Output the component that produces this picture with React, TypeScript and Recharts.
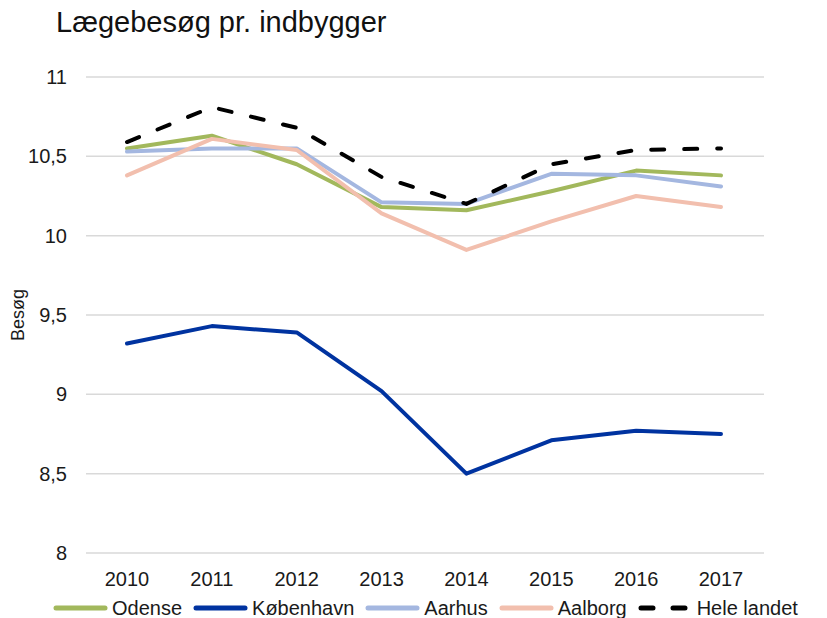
import { LineChart, Line, XAxis, YAxis, CartesianGrid, Legend, Label } from 'recharts';

const years = ['2010', '2011', '2012', '2013', '2014', '2015', '2016', '2017'];
const odense = [10.55, 10.63, 10.45, 10.18, 10.16, 10.28, 10.41, 10.38];
const koebenhavn = [9.32, 9.43, 9.39, 9.02, 8.5, 8.71, 8.77, 8.75];
const aarhus = [10.53, 10.55, 10.55, 10.21, 10.2, 10.39, 10.38, 10.31];
const aalborg = [10.38, 10.61, 10.54, 10.14, 9.91, 10.09, 10.25, 10.18];
const heleLandet = [10.59, 10.81, 10.68, 10.37, 10.2, 10.45, 10.54, 10.55];
const yTicks = [8, 8.5, 9, 9.5, 10, 10.5, 11];

const data = years.map((year, i) => ({
  year,
  Odense: odense[i],
  København: koebenhavn[i],
  Aarhus: aarhus[i],
  Aalborg: aalborg[i],
  'Hele landet': heleLandet[i],
}));

const series = [
  { key: 'Odense', color: '#a2b85c', dash: undefined },
  { key: 'København', color: '#0033a0', dash: undefined },
  { key: 'Aarhus', color: '#a4b7e0', dash: undefined },
  { key: 'Aalborg', color: '#f2bfae', dash: undefined },
  { key: 'Hele landet', color: '#000000', dash: '13 20' },
];

const font = '"Liberation Sans", Arial, sans-serif';

function LegendContent() {
  return (
    <div style={{ display: 'flex', alignItems: 'center', paddingLeft: 53, fontFamily: font, fontSize: 20, color: '#1a1a1a', height: 20 }}>
      {series.map((s) => (
        <div key={s.key} style={{ display: 'flex', alignItems: 'center', marginRight: 11 }}>
          <svg width={55} height={10} style={{ marginRight: 4 }}>
            <line
              x1={3}
              y1={5}
              x2={52}
              y2={5}
              stroke={s.color}
              strokeWidth={5}
              strokeLinecap="round"
              strokeDasharray={s.dash ? '12 20' : undefined}
            />
          </svg>
          <span style={{ lineHeight: '20px' }}>{s.key}</span>
        </div>
      ))}
    </div>
  );
}

export default function App() {
  return (
    <div style={{ position: 'absolute', left: 0, top: 0, width: 827, height: 618, background: '#fff' }}>
      <div style={{ position: 'absolute', left: 56, top: 6, fontFamily: font, fontSize: 29, color: '#111' }}>
        Lægebesøg pr. indbygger
      </div>
      <LineChart width={827} height={618} data={data} margin={{ top: 77, right: 63, bottom: 0, left: 0 }}>
        <CartesianGrid vertical={false} stroke="#d9d9d9" strokeWidth={1.5} />
        <XAxis
          dataKey="year"
          axisLine={false}
          tickLine={false}
          height={45}
          tickMargin={13}
          padding={{ left: 41, right: 43 }}
          tick={{ fill: '#1a1a1a', fontSize: 20, fontFamily: font }}
        />
        <YAxis
          domain={[8, 11]}
          ticks={yTicks}
          width={86}
          axisLine={false}
          tickLine={false}
          tickMargin={13}
          tickFormatter={(v: number) => String(v).replace('.', ',')}
          tick={{ fill: '#1a1a1a', fontSize: 20, fontFamily: font }}
        >
          <Label
            value="Besøg"
            angle={-90}
            position="insideLeft"
            offset={18}
            style={{ fill: '#1a1a1a', fontSize: 18, fontFamily: font, textAnchor: 'middle' }}
          />
        </YAxis>
        <Legend verticalAlign="bottom" height={20} wrapperStyle={{ left: 0, width: 827 }} content={<LegendContent />} />
        {series.map((s) => (
          <Line
            key={s.key}
            dataKey={s.key}
            stroke={s.color}
            strokeWidth={4}
            strokeDasharray={s.dash}
            strokeLinecap="round"
            strokeLinejoin="round"
            dot={false}
            activeDot={false}
            isAnimationActive={false}
          />
        ))}
      </LineChart>
    </div>
  );
}
